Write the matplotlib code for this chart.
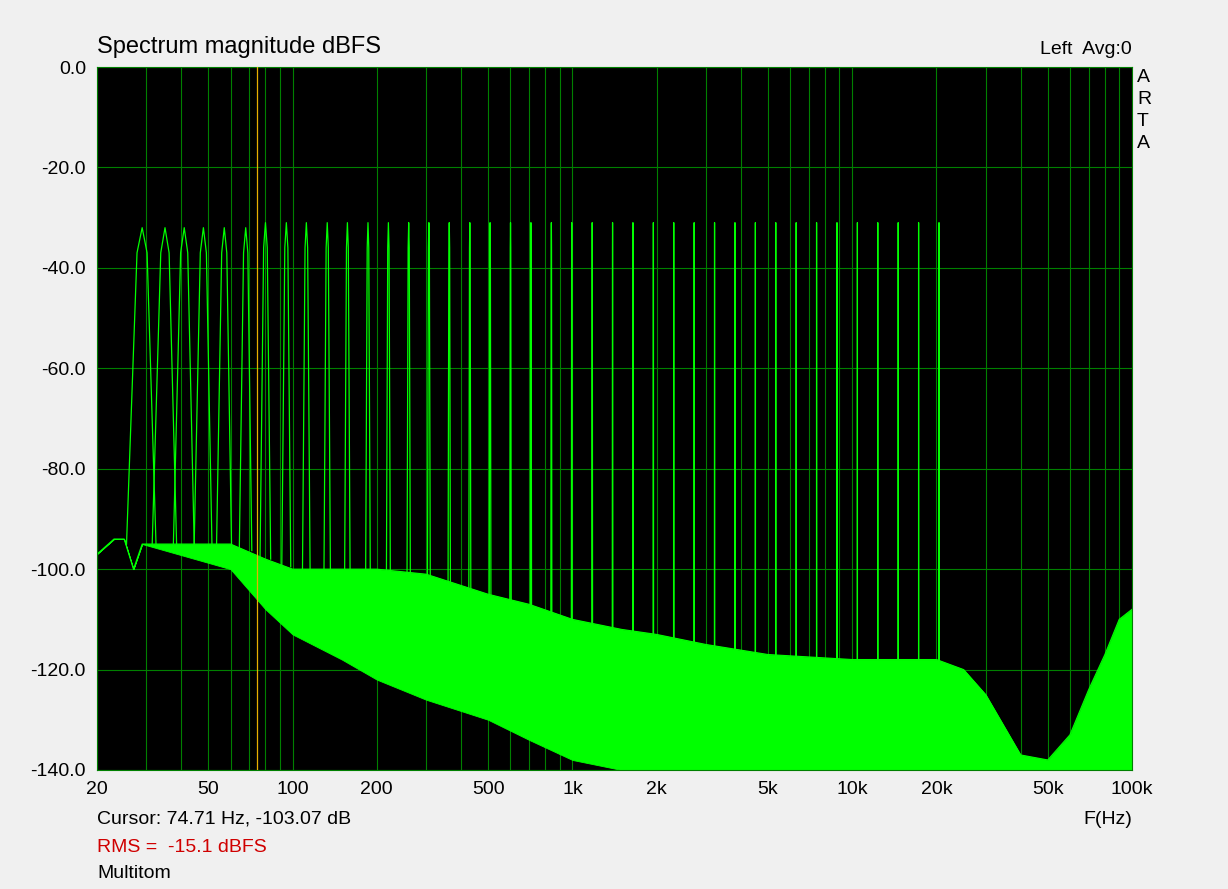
import matplotlib
matplotlib.use("Agg")
import matplotlib.pyplot as plt
import numpy as np

plt.rcParams["font.family"] = "Liberation Sans"

# multitone frequencies (Hz) and peak levels (dBFS)
tone_freqs = [29, 35, 41, 48, 57, 68, 80, 95, 112, 133, 157, 186, 220, 260,
              307, 363, 430, 508, 601, 711, 841, 995, 1177, 1392, 1646, 1947,
              2303, 2724, 3222, 3811, 4508, 5332, 6307, 7460, 8824, 10437,
              12345, 14602, 17272, 20430]
tone_levels = [-32, -32, -32, -32, -32, -32, -31, -31, -31, -31, -31, -31, -31, -31,
               -31, -31, -31, -31, -31, -31, -31, -31, -31, -31, -31, -31,
               -31, -31, -31, -31, -31, -31, -31, -31, -31, -31,
               -31, -31, -31, -31]

# noise floor envelope
floor_freqs = [20, 23, 25, 27, 29, 60, 80, 100, 150, 200, 300, 500, 700, 1000, 1500,
               2000, 3000, 5000, 10000, 20000, 25000, 30000, 40000, 50000,
               60000, 70000, 80000, 90000, 100000]
floor_upper = [-97, -94, -94, -100, -95, -95, -98, -100, -100, -100, -101, -105, -107,
               -110, -112, -113, -115, -117, -118, -118, -120, -125, -137, -138,
               -133, -124, -117, -110, -108]
floor_lower = [-97, -94, -94, -100, -95, -100, -108, -113, -118, -122, -126, -130,
               -134, -138, -140, -140, -140, -140, -140, -140, -140, -140, -140,
               -140, -140, -140, -140, -140, -140]

cursor_freq = 74.71
x_ticks = [20, 50, 100, 200, 500, 1000, 2000, 5000, 10000, 20000, 50000, 100000]
x_labels = ["20", "50", "100", "200", "500", "1k", "2k", "5k", "10k", "20k", "50k", "100k"]
y_ticks = [0, -20, -40, -60, -80, -100, -120, -140]

GREEN = "#00FF00"
GRID = "#008000"

fig = plt.figure(figsize=(12.28, 8.89), dpi=100, facecolor="#F0F0F0")
ax = fig.add_axes([97 / 1228, 1 - 770 / 889, (1132 - 97) / 1228, (770 - 67) / 889])
ax.set_facecolor("black")
ax.set_xscale("log")
ax.set_xlim(20, 100000)
ax.set_ylim(-140, 0)

# grid
for dec in [10, 100, 1000, 10000]:
    for m in range(1, 10):
        f = dec * m
        if 20 <= f <= 100000:
            ax.axvline(f, color=GRID, lw=0.8, zorder=1)
for y in y_ticks:
    ax.axhline(y, color=GRID, lw=0.8, zorder=1)

# noise floor
ax.fill_between(floor_freqs, floor_lower, floor_upper, color=GREEN, lw=0.6, zorder=2)
ax.plot(floor_freqs, floor_upper, color=GREEN, lw=0.8, zorder=2)

# tones (fixed FFT bin width in Hz -> wide at low frequency)
for f, lvl in zip(tone_freqs, tone_levels):
    base = float(np.interp(np.log10(f), np.log10(floor_freqs), floor_upper))
    xs = [f - 3.5, f - 1.2, f, f + 1.2, f + 3.5]
    ys = [base, lvl - 5, lvl, lvl - 5, base]
    ax.plot(xs, ys, color=GREEN, lw=0.9, zorder=3)

ax.axvline(cursor_freq, color="#E8B000", lw=0.9, zorder=4)

ax.set_xticks(x_ticks)
ax.set_xticklabels(x_labels)
ax.xaxis.set_minor_locator(matplotlib.ticker.NullLocator())
ax.set_yticks(y_ticks)
ax.set_yticklabels([f"{y:.1f}" for y in y_ticks])
ax.tick_params(length=0, labelsize=14, pad=8)
for s in ax.spines.values():
    s.set_color(GRID)

fig.text(97 / 1228, 1 - 47 / 889, "Spectrum magnitude dBFS", fontsize=17, va="center")
fig.text(1132 / 1228, 1 - 50 / 889, "Left  Avg:0", fontsize=14, va="center", ha="right")
for i, ch in enumerate("ARTA"):
    fig.text(1137 / 1228, 1 - (77 + i * 22) / 889, ch, fontsize=14, va="center")
fig.text(97 / 1228, 1 - 819 / 889, "Cursor: 74.71 Hz, -103.07 dB", fontsize=14, va="center")
fig.text(1132 / 1228, 1 - 819 / 889, "F(Hz)", fontsize=14, va="center", ha="right")
fig.text(97 / 1228, 1 - 848 / 889, "RMS =  -15.1 dBFS", fontsize=14, va="center", color="#D00000")
fig.text(97 / 1228, 1 - 873 / 889, "Multitom", fontsize=14, va="center")

fig.savefig("out.png", dpi=100, facecolor=fig.get_facecolor())
